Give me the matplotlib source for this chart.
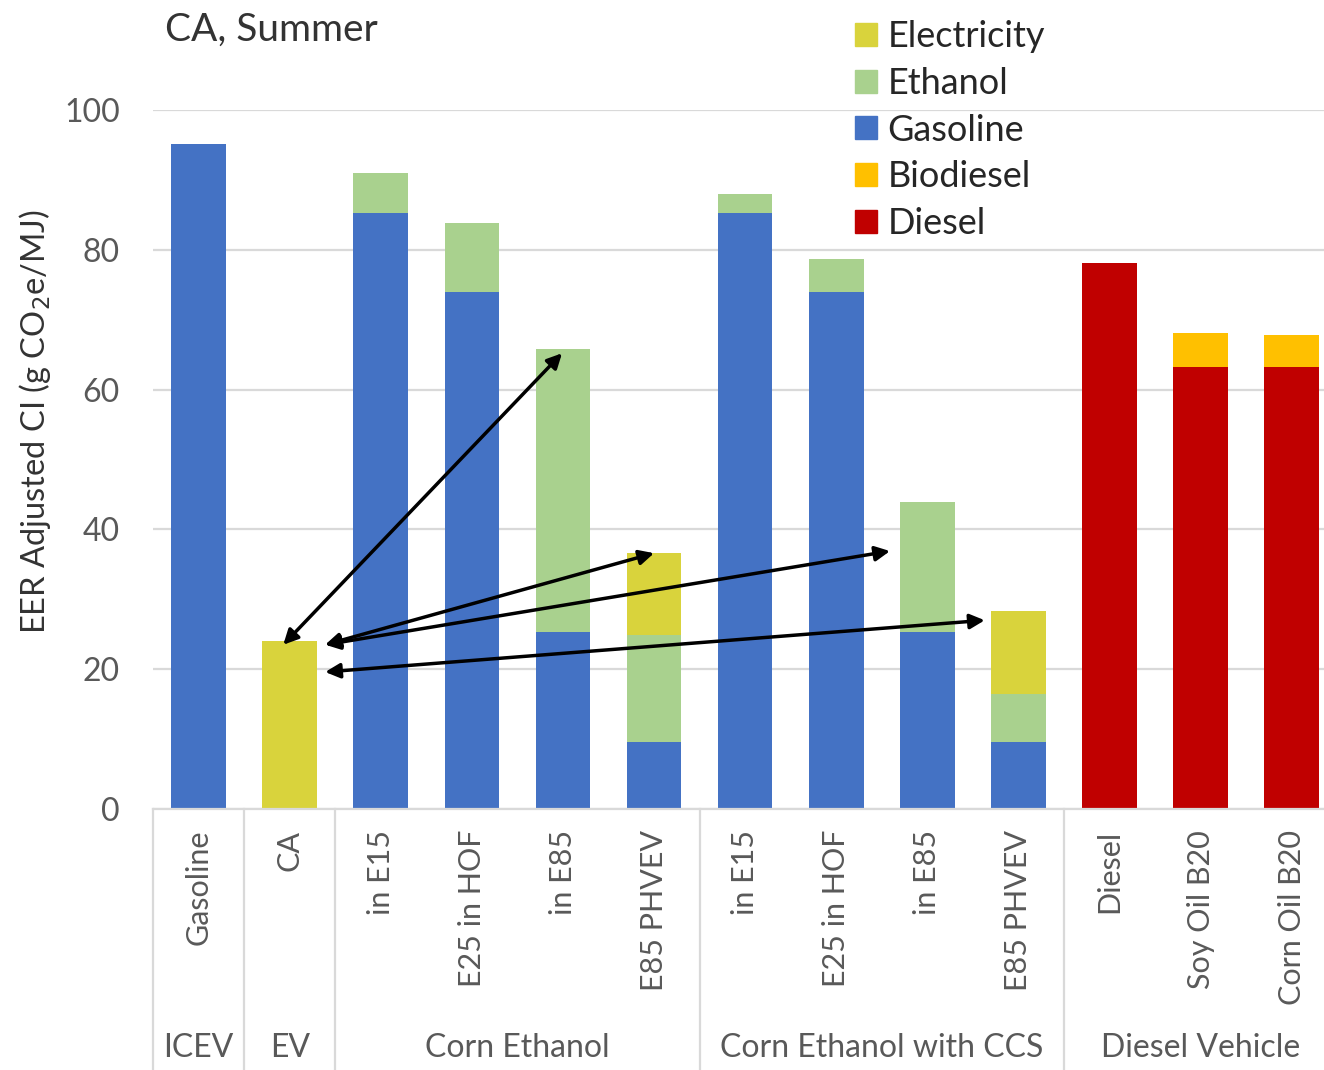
import matplotlib
matplotlib.use("Agg")
import matplotlib.pyplot as plt
import matplotlib.transforms as mtransforms
import numpy as np

plt.rcParams['font.family'] = ['Lato', 'DejaVu Sans']

# Data
categories = ["Gasoline", "CA", "in E15", "E25 in HOF", "in E85", "E85 PHVEV",
              "in E15", "E25 in HOF", "in E85", "E85 PHVEV",
              "Diesel", "Soy Oil B20", "Corn Oil B20"]
groups = ["ICEV", "EV", "Corn Ethanol", "Corn Ethanol with CCS", "Diesel Vehicle"]
group_sizes = [1, 1, 4, 4, 3]

gasoline = [95.1, 0, 85.3, 74.0, 25.3, 9.6, 85.3, 74.0, 25.3, 9.6, 0, 0, 0]
ethanol = [0, 0, 5.7, 9.8, 40.5, 15.3, 2.7, 4.7, 18.6, 6.9, 0, 0, 0]
electricity = [0, 24.0, 0, 0, 0, 11.7, 0, 0, 0, 11.8, 0, 0, 0]
diesel = [0, 0, 0, 0, 0, 0, 0, 0, 0, 0, 78.1, 63.3, 63.3]
biodiesel = [0, 0, 0, 0, 0, 0, 0, 0, 0, 0, 0, 4.8, 4.5]

colors = {"Gasoline": "#4472C4", "Ethanol": "#A9D18E", "Electricity": "#D9D33C",
          "Biodiesel": "#FFC000", "Diesel": "#C00000"}

# arrows: (start x, start y, end x, end y) in data units
arrows = [(0.93, 23.5, 3.99, 65.2),
          (1.39, 23.5, 5.00, 36.6),
          (1.39, 23.5, 7.59, 36.9),
          (1.39, 19.6, 8.63, 27.0)]

fig = plt.figure(figsize=(13.24, 10.7), dpi=100, facecolor='w')
# the category axis runs a little past the right edge of the picture
ax = fig.add_axes([153/1324, 1-809/1070, 13*91.1/1324, (809-110)/1070])

x = np.arange(len(categories))
w = 0.60
gas = np.array(gasoline)
eth = np.array(ethanol)
ele = np.array(electricity)
die = np.array(diesel)
bio = np.array(biodiesel)

ax.bar(x, gas, w, color=colors["Gasoline"], zorder=2)
ax.bar(x, eth, w, bottom=gas, color=colors["Ethanol"], zorder=2)
ax.bar(x, ele, w, bottom=gas+eth, color=colors["Electricity"], zorder=2)
ax.bar(x, die, w, color=colors["Diesel"], zorder=2)
ax.bar(x, bio, w, bottom=die, color=colors["Biodiesel"], zorder=2)

ax.set_xlim(-0.5, 12.5)
ax.set_ylim(0, 100)
ax.set_yticks(np.arange(0, 101, 20))
ax.grid(axis='y', color='#D9D9D9', lw=1.6, zorder=0)
ax.set_axisbelow(True)
for s in ['left', 'right', 'top']:
    ax.spines[s].set_visible(False)
ax.spines['bottom'].set_color('#D9D9D9')
ax.spines['bottom'].set_linewidth(1.6)
ax.tick_params(axis='y', length=0, pad=24, labelsize=23, labelcolor='#595959')
ax.set_xticks(x)
ax.set_xticklabels(categories, rotation=90, va='top', ha='center')
ax.tick_params(axis='x', length=0, pad=15, labelsize=22, labelcolor='#595959')

# multi-level category axis
trans = mtransforms.blended_transform_factory(ax.transData, ax.transAxes)
bottom = -(1070-809)/(809-110)
edges = np.concatenate([[0], np.cumsum(group_sizes)]) - 0.5
for e in edges[:-1]:
    ax.plot([e, e], [0, bottom], transform=trans, color='#D9D9D9', lw=1.6, clip_on=False)
for g, a, b in zip(groups, edges[:-1], edges[1:]):
    ax.text((a+b)/2, -(1048-809)/(809-110), g, transform=trans, ha='center', va='center',
            fontsize=23, color='#595959')

# arrows
for x0, y0, x1, y1 in arrows:
    ax.annotate('', xy=(x1, y1), xytext=(x0, y0),
                arrowprops=dict(arrowstyle='<|-|>', color='black', lw=2.5,
                                mutation_scale=22, shrinkA=0, shrinkB=0), zorder=5)

fig.text(165/1324, 1-30/1070, "CA, Summer", fontsize=28, color='#333333', va='center')
fig.text(35/1324, 1-422/1070, "EER Adjusted CI (g CO$_2$e/MJ)", rotation=90,
         fontsize=23.5, color='#333333', ha='center', va='center')

order = ["Electricity", "Ethanol", "Gasoline", "Biodiesel", "Diesel"]
handles = [plt.Rectangle((0, 0), 1, 1, color=colors[k]) for k in order]
fig.legend(handles, order, loc='upper left', bbox_to_anchor=(837/1324, 1-2/1070),
           frameon=False, fontsize=26, handlelength=0.6, handleheight=0.6,
           handletextpad=0.3, labelspacing=0.38, labelcolor='#262626',
           borderpad=0.0)

fig.savefig("out.png", dpi=100, facecolor='w')
